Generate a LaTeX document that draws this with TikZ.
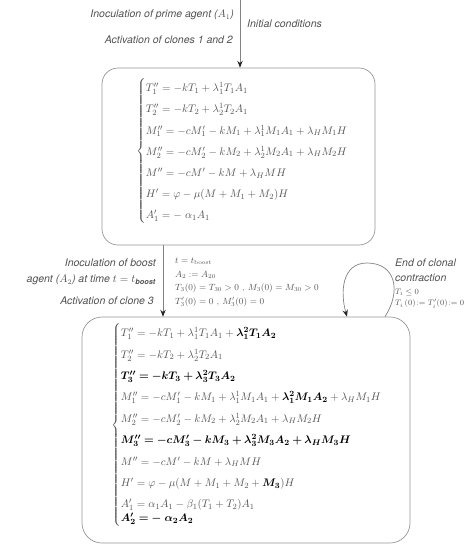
\documentclass[tikz,border=0pt]{standalone}
\usepackage{amsmath,bm}
\usepackage{fontspec}
\setsansfont{TeX Gyre Heros}
\usetikzlibrary{arrows.meta}
\definecolor{eqgray}{RGB}{85,85,85}
\definecolor{lblgray}{RGB}{80,80,80}
\definecolor{linegray}{RGB}{130,130,130}
\definecolor{boxgray}{RGB}{150,150,150}
\newcommand\nb[1]{{\color{black}\boldsymbol{#1}}}
\begin{document}
\begin{tikzpicture}[x=1pt,y=-1pt,
  box/.style={draw=boxgray, line width=0.7pt, inner sep=0pt},
  eqs/.style={inner sep=0pt, anchor=west, text=eqgray, font=\fontsize{10.9}{13}\selectfont},
  lbl/.style={inner sep=0pt, text=lblgray, font=\fontsize{10.5}{12}\selectfont\sffamily\itshape},
  cond/.style={inner sep=0pt, anchor=west, text=eqgray, font=\fontsize{9}{10.8}\selectfont},
  condsm/.style={inner sep=0pt, anchor=west, text=eqgray, font=\fontsize{8}{9.6}\selectfont},
  conn/.style={draw=linegray, line width=0.7pt, -{Stealth[length=7pt,width=5.5pt,inset=2.5pt,color=black!85]}}
]
\useasboundingbox (0,0) rectangle (475,550);
\node[box, rounded corners=16pt, minimum width=273pt, minimum height=177pt] (box1) at (238.5,156.5) {};
\node[box, rounded corners=20pt, minimum width=328pt, minimum height=226pt] (box2) at (246,430) {};

\node[eqs] (eq1) at (136,151) {\renewcommand\arraystretch{1.63}$\left\{\begin{array}{@{}l@{}}
T_1'' = -kT_1 + \lambda_1^1 T_1 A_1\\
T_2'' = -kT_2 + \lambda_2^1 T_2 A_1\\
M_1'' = -cM_1' - kM_1 + \lambda_1^1 M_1 A_1 + \lambda_H M_1 H\\
M_2'' = -cM_2' - kM_2 + \lambda_2^1 M_2 A_1 + \lambda_H M_2 H\\
M'' = -cM' - kM + \lambda_H M H\\
H' = \varphi - \mu(M + M_1 + M_2)H\\
A_1' = -\;\alpha_1 A_1
\end{array}\right.$};

\node[eqs] (eq2) at (111,425) {\renewcommand\arraystretch{1.645}$\left\{\begin{array}{@{}l@{}}
T_1'' = -kT_1 + \lambda_1^1 T_1A_1 + \nb{\lambda_1^2 T_1 A_2}\\
T_2'' = -kT_2 + \lambda_2^1 T_2 A_1\\
\nb{T_3'' = -kT_3 + \lambda_3^2 T_3 A_2}\\
M_1'' = -cM_1' - kM_1 + \lambda_1^1 M_1 A_1 + \nb{\lambda_1^2 M_1 A_2} + \lambda_H M_1 H\\
M_2'' = -cM_2' - kM_2 + \lambda_2^1 M_2 A_1 + \lambda_H M_2 H\\
\nb{M_3'' = -cM_3' - kM_3 + \lambda_3^2 M_3 A_2 + \lambda_H M_3 H}\\
M'' = -cM' - kM + \lambda_H M H\\
H' = \varphi - \mu(M + M_1 + M_2 + \nb{M_3})H\\
A_1' = \alpha_1 A_1 - \beta_1(T_1+T_2)A_1\\[-7.4pt]
\nb{A_2' = -\;\alpha_2 A_2}
\end{array}\right.$};

\node[lbl, anchor=east] (l1) at (234,15) {Inoculation of prime agent ($A_1$)};
\node[lbl, anchor=east] (l2) at (233,40) {Activation of clones 1 and 2};
\node[lbl, anchor=west] (l3) at (247,24) {Initial conditions};
\node[lbl, anchor=east] (l4) at (156,263) {Inoculation of boost};
\node[lbl, anchor=east] (l5) at (156,280) {agent ($A_2$) at time $t = t_{\text{\bfseries\itshape boost}}$};
\node[lbl, anchor=east] (l6) at (154,301) {Activation of clone 3};

\node[cond] (c1) at (175,261) {$t = t_{\mathrm{boost}}$};
\node[cond] (c2) at (175,275) {$A_2 := A_{20}$};
\node[cond] (c3) at (175,288) {$T_3(0) = T_{30} > 0\ \mathbf{,}\ M_3(0) = M_{30} > 0$};
\node[cond] (c4) at (175,302) {$T_3'(0) = 0\ \mathbf{,}\ M_3'(0) = 0$};

\node[lbl, anchor=west] (e1) at (395,263) {End of clonal};
\node[lbl, anchor=west] (e2) at (395,278) {contraction};
\node[condsm] (e3) at (395,292) {$T_i \le 0$};
\node[condsm] (e4) at (395,304) {$T_i\,(0)\!:=T_i'(0)\!:=0$};

\coordinate (top) at (240,0);
\draw[conn] (top) -- (top |- box1.north);
\coordinate (a2) at (163,0);
\draw[conn] (a2 |- box1.south) -- (a2 |- box2.north);
\coordinate (ls) at (385,0);
\coordinate (le) at (347,0);
\draw[conn] (ls |- box2.north) .. controls (402,290) and (395,263) .. (367,263) .. controls (342,263) and (340,292) .. (le |- box2.north);
\end{tikzpicture}
\end{document}
